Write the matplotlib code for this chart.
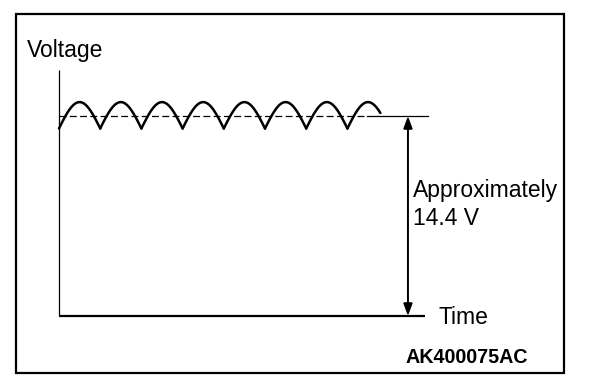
import numpy as np
import matplotlib
matplotlib.use("Agg")
import matplotlib.pyplot as plt
from matplotlib.patches import Rectangle, FancyArrowPatch

plt.rcParams['font.family'] = ['Liberation Sans', 'DejaVu Sans']
plt.rcParams['lines.scale_dashes'] = False

# ---- data (time in ripple periods, voltage in V) ----
ripple_cusps = [0, 1, 2, 3, 4, 5, 6, 7]
ripple_end = 7.8
peak_voltage = 15.4
trough_voltage = 13.5
nominal_voltage = 14.4
time_axis_end = 8.88
voltage_axis_top = 17.7
dashed_end = 7.47
level_line_end = 8.96
arrow_time = 8.47
y_label = "Voltage"
x_label = "Time"
level_label_1 = "Approximately"
level_label_2 = "14.4 V"
code_label = "AK400075AC"

W, H = 608, 388
fig = plt.figure(figsize=(W / 100, H / 100), dpi=100)
ax = fig.add_axes([0, 0, 1, 1])
ax.axis('off')

# pixel mapping of data space
x0_px, px_per_t = 59, 41.2
y0_px, v_per_px = 316, 0.072
ax.set_xlim((0 - x0_px) / px_per_t, (W - x0_px) / px_per_t)
ax.set_ylim((y0_px - H) * v_per_px, (y0_px - 0) * v_per_px)

# border
fig.patches.append(Rectangle((16 / W, (H - 373) / H), 548 / W, 359 / H,
                             transform=fig.transFigure, fill=False,
                             edgecolor='black', linewidth=1.6))

# axes lines
ax.plot([0, 0], [0, voltage_axis_top], color='black', lw=0.9, solid_capstyle='butt')
ax.plot([0, time_axis_end], [0, 0], color='black', lw=1.6, solid_capstyle='butt')

# ripple waveform
amp = peak_voltage - trough_voltage
bounds = list(ripple_cusps) + [ripple_end]
for a, b in zip(bounds[:-1], bounds[1:]):
    t = np.linspace(a, b, 60)
    v = trough_voltage + amp * np.sin(np.pi * (t - a))
    ax.plot(t, v, color='black', lw=1.8, solid_capstyle='round')

# nominal level line
ax.plot([0, dashed_end], [nominal_voltage, nominal_voltage], color='black',
        lw=0.9, linestyle=(0, (5, 2.4)))
ax.plot([dashed_end, level_line_end], [nominal_voltage, nominal_voltage],
        color='black', lw=0.9)

# double arrow
arr = FancyArrowPatch((arrow_time, 0), (arrow_time, nominal_voltage),
                      arrowstyle='<|-|>,head_length=0.6,head_width=0.22',
                      mutation_scale=12, color='black', lw=1.4,
                      shrinkA=0, shrinkB=0)
ax.add_patch(arr)

def dx(px):
    return (px - x0_px) / px_per_t

def dy(py):
    return (y0_px - py) * v_per_px

fs = 16.5
ax.text(dx(27), dy(57), y_label, fontsize=fs, ha='left', va='baseline')
ax.text(dx(439), dy(324), x_label, fontsize=fs, ha='left', va='baseline')
ax.text(dx(413), dy(197), level_label_1, fontsize=fs, ha='left', va='baseline')
ax.text(dx(413), dy(225), level_label_2, fontsize=fs, ha='left', va='baseline')
ax.text(dx(406), dy(363), code_label, fontsize=14.2, fontweight='bold',
        ha='left', va='baseline')

fig.savefig('out.png', dpi=100)
